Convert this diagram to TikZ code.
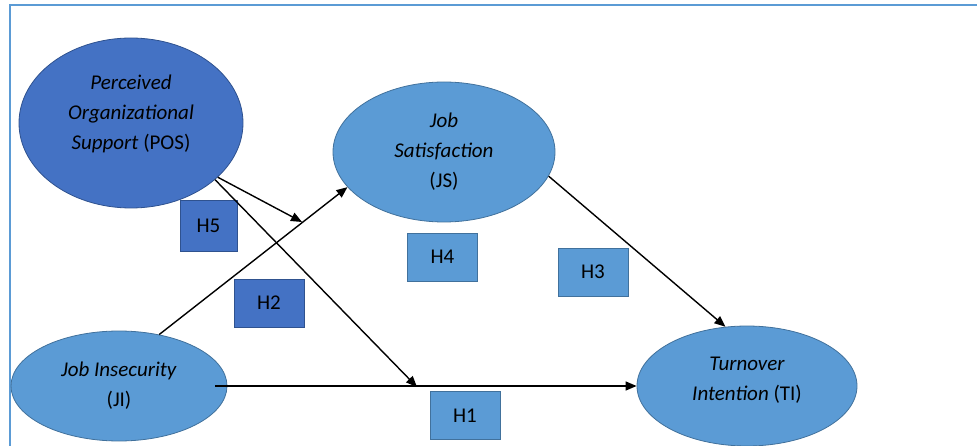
\documentclass[tikz,border=0pt]{standalone}
\usepackage{fontspec}
\setmainfont{Carlito}
\usetikzlibrary{shapes.geometric,arrows.meta}

\definecolor{darkfill}{HTML}{4472C4}
\definecolor{darkline}{HTML}{2F528F}
\definecolor{lightfill}{HTML}{5B9BD5}
\definecolor{lightline}{HTML}{41719C}

\begin{document}
\begin{tikzpicture}[x=1pt, y=-1pt, line width=1.4pt, >={Triangle[length=11pt,width=9pt]},
  construct/.style={ellipse, draw=lightline, fill=lightfill, line width=0.8pt, inner sep=0pt,
    align=center, font=\fontsize{21}{30}\selectfont},
  hypo/.style={rectangle, draw=lightline, fill=lightfill, line width=0.8pt, inner sep=0pt,
    minimum width=70pt, minimum height=48pt, font=\fontsize{21}{24}\selectfont}]
  \useasboundingbox (0,0) rectangle (977,446);
  \draw[lightfill, line width=2pt] (10,446) -- (10,5) -- (977,5);

  \node[construct, draw=darkline, fill=darkfill, minimum width=224pt, minimum height=170pt, text depth=22pt] (pos) at (131,123)
    {\textit{Perceived}\\ \textit{Organizational}\\ \textit{Support} (POS)};
  \node[construct, minimum width=222pt, minimum height=140pt] (js) at (444,152)
    {\textit{Job}\\ \textit{Satisfaction}\\ (JS)};
  \node[construct, minimum width=216pt, minimum height=110pt] (ji) at (119,386)
    {\textit{Job Insecurity}\\ (JI)};
  \node[construct, minimum width=220pt, minimum height=120pt, text depth=14pt] (ti) at (747,386)
    {\textit{Turnover}\\ \textit{Intention} (TI)};

  \node[hypo, draw=darkline, fill=darkfill, minimum width=57pt, minimum height=51pt] (h5) at (208.5,225.5) {H5};
  \node[hypo, draw=darkline, fill=darkfill] (h2) at (269,303) {H2};
  \node[hypo] (h4) at (442.5,257) {H4};
  \node[hypo] (h1) at (465,415.5) {H1};
  \node[hypo] (h3) at (593,272) {H3};

  \coordinate (mid_js) at (302,222);
  \coordinate (mid_ti) at (417,387);

  \draw[->] (pos.-32) -- (mid_js);
  \draw[->] (pos.-34) -- (mid_ti);
  \draw[->] (ji.52) -- (js.200);
  \draw[->, shorten <=-12pt] (ji) -- (ti);
  \draw[->] (js.-13) -- (ti.110);
\end{tikzpicture}
\end{document}
